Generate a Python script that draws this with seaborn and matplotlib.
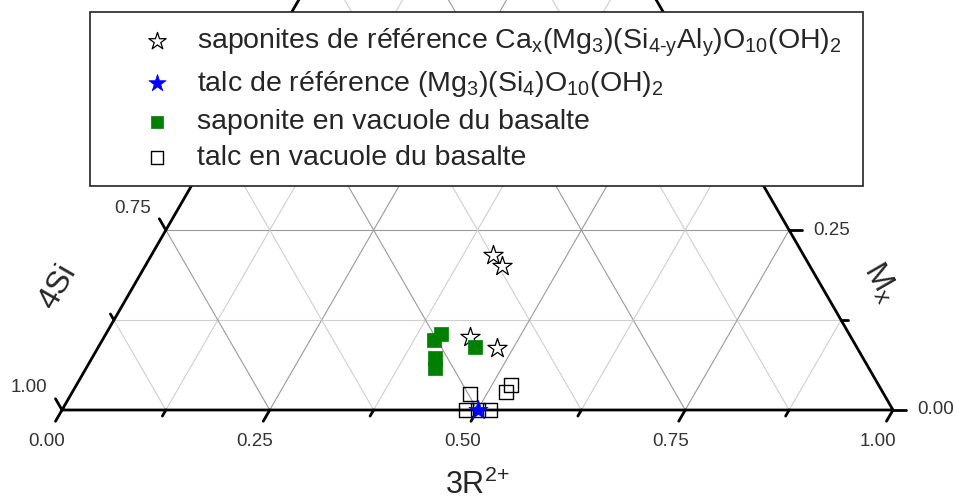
"""
Ternary diagram 3R2+ / 4Si / Mx — saponites and talc (reference vs basalt vacuoles).
"""

import numpy as np
import matplotlib
matplotlib.use("Agg")
import matplotlib.pyplot as plt
import seaborn as sns

# ── Data (ternary coordinates: 3R2+, 4Si, Mx) ────────────────────────────────

SAP_REF_3R  = [0.411, 0.430, 0.440, 0.481]
SAP_REF_4SI = [0.374, 0.370, 0.459, 0.433]
SAP_REF_MX  = [0.215, 0.200, 0.101, 0.086]

TALC_REF_3R  = [0.500]
TALC_REF_4SI = [0.500]
TALC_REF_MX  = [0.000]

SAP_VAC_3R  = [0.403, 0.399, 0.413, 0.420, 0.453]
SAP_VAC_4SI = [0.491, 0.504, 0.515, 0.522, 0.459]
SAP_VAC_MX  = [0.106, 0.097, 0.072, 0.058, 0.088]

TALC_VAC_3R  = [0.480, 0.523, 0.522, 0.486, 0.501, 0.515]
TALC_VAC_4SI = [0.498, 0.442, 0.453, 0.514, 0.499, 0.485]
TALC_VAC_MX  = [0.022, 0.035, 0.025, 0.000, 0.000, 0.000]

BOTTOM_TICKS = ["0.00", "0.25", "0.50", "0.75", "1.00"]
LEFT_TICKS   = ["1.00", "0.75"]
RIGHT_TICKS  = ["0.00", "0.25"]

LABELS = [
    r"saponites de référence Ca$_\mathrm{x}$(Mg$_\mathrm{3}$)(Si$_\text{4-y}$"
    r"Al$_\mathrm{y}$)O$_\mathrm{10}$(OH)$_\mathrm{2}$",
    r"talc de référence (Mg$_\mathrm{3}$)(Si$_\mathrm{4}$)O$_\mathrm{10}$(OH)$_\mathrm{2}$",
    "saponite en vacuole du basalte",
    "talc en vacuole du basalte",
]

# ── Style ─────────────────────────────────────────────────────────────────────

W, H_PX  = 956, 501
SCALE    = 831.0           # pixels per triangle side
X0_PX    = 62.0            # pixel of the 3R = 0 corner
Y0_PX    = 410.0           # pixel row of the bottom edge (from top)
PX       = 1.0 / SCALE
H        = np.sqrt(3) / 2

GRID_MAJOR = "#9a9a9a"
GRID_MINOR = "#cfcfcf"
GREEN      = "#007f00"
TICK_COL   = "#333333"

sns.set_theme(style="white")
plt.rcParams["font.family"] = ["Liberation Sans", "DejaVu Sans"]
plt.rcParams["mathtext.fontset"] = "custom"
plt.rcParams["mathtext.rm"] = "Liberation Sans"
plt.rcParams["mathtext.it"] = "Liberation Sans:italic"
plt.rcParams["mathtext.bf"] = "Liberation Sans:bold"


def to_xy(r3, si4, mx):
    """Ternary (3R, 4Si, Mx) -> cartesian, 3R to the right, Mx upward."""
    r3, si4, mx = (np.asarray(a, dtype=float) for a in (r3, si4, mx))
    tot = r3 + si4 + mx
    r3, mx = r3 / tot, mx / tot
    return r3 + mx / 2, mx * H


fig = plt.figure(figsize=(W / 100, H_PX / 100), dpi=100, facecolor="white")
ax = fig.add_axes([0, 0, 1, 1])
ax.set_xlim(-X0_PX * PX, (W - X0_PX) * PX)
ax.set_ylim(-(H_PX - Y0_PX) * PX, Y0_PX * PX)
ax.axis("off")

# ── Grid ──────────────────────────────────────────────────────────────────────
for k in range(1, 8):
    v = k / 8
    col = GRID_MAJOR if k % 2 == 0 else GRID_MINOR
    for a, b in [((0, 1 - v, v), (1 - v, 0, v)),      # constant Mx
                 ((v, 1 - v, 0), (v, 0, 1 - v)),      # constant 3R
                 ((1 - v, v, 0), (0, v, 1 - v))]:     # constant 4Si
        xa, ya = to_xy(*a)
        xb, yb = to_xy(*b)
        ax.plot([xa, xb], [ya, yb], color=col, lw=0.8, zorder=1)

# ── Triangle edges and ticks ──────────────────────────────────────────────────
cx, cy = to_xy([0, 1, 0, 0], [1, 0, 0, 1], [0, 0, 1, 0])
ax.plot(cx, cy, color="black", lw=2.0, zorder=3, solid_capstyle="round")

for k in range(9):
    v = k / 8
    ln = (13 if k % 2 == 0 else 7) * PX
    # bottom (3R) ticks point down-left
    bx, by = to_xy(v, 1 - v, 0)
    ax.plot([bx, bx - 0.5 * ln], [by, by - H * ln], color="black", lw=2.0, zorder=3)
    # left (4Si) ticks point up-left
    lx, ly = to_xy(0, v, 1 - v)
    ax.plot([lx, lx - 0.5 * ln], [ly, ly + H * ln], color="black", lw=2.0, zorder=3)
    # right (Mx) ticks point right
    rx, ry = to_xy(1 - v, 0, v)
    ax.plot([rx, rx + ln], [ry, ry], color="black", lw=2.0, zorder=3)

# ── Tick labels ───────────────────────────────────────────────────────────────
for lab in BOTTOM_TICKS:
    v = float(lab)
    x, y = to_xy(v, 1 - v, 0)
    ax.text(x - 15 * PX, y - 31 * PX, lab, ha="center", va="center",
            fontsize=13.5, color=TICK_COL)
for lab in LEFT_TICKS:
    v = float(lab)
    x, y = to_xy(0, v, 1 - v)
    ax.text(x - 33 * PX, y + 22 * PX, lab, ha="center", va="center",
            fontsize=13.5, color=TICK_COL)
for lab in RIGHT_TICKS:
    v = float(lab)
    x, y = to_xy(1 - v, 0, v)
    ax.text(x + 24 * PX, y, lab, ha="left", va="center",
            fontsize=13.5, color=TICK_COL)

# ── Axis titles ───────────────────────────────────────────────────────────────
ax.text((58 - X0_PX) * PX, (Y0_PX - 287) * PX, "4Si", rotation=60,
        ha="center", va="center", fontsize=23, rotation_mode="anchor")
ax.text(0.5, -(H_PX - Y0_PX - 0.5) * PX, r"3R$^\text{2+}$", ha="center",
        va="bottom", fontsize=22)
ax.text((880 - X0_PX) * PX, (Y0_PX - 283) * PX, r"M$_\mathrm{x}$", rotation=-60,
        ha="center", va="center", fontsize=23, rotation_mode="anchor")

# ── Points ────────────────────────────────────────────────────────────────────
x, y = to_xy(SAP_REF_3R, SAP_REF_4SI, SAP_REF_MX)
sns.scatterplot(x=x, y=y, ax=ax, marker="*", s=210, color="white",
                edgecolor="black", linewidth=0.9, zorder=4, label=LABELS[0])

x, y = to_xy(SAP_VAC_3R, SAP_VAC_4SI, SAP_VAC_MX)
sns.scatterplot(x=x, y=y, ax=ax, marker="s", s=105, color=GREEN,
                edgecolor=GREEN, linewidth=0.5, zorder=4, label=LABELS[2])

x, y = to_xy(TALC_VAC_3R, TALC_VAC_4SI, TALC_VAC_MX)
sns.scatterplot(x=x, y=y, ax=ax, marker="s", s=105, color="none",
                edgecolor="black", linewidth=1.0, zorder=5, label=LABELS[3])

x, y = to_xy(TALC_REF_3R, TALC_REF_4SI, TALC_REF_MX)
sns.scatterplot(x=x, y=y, ax=ax, marker="*", s=210, color="blue",
                edgecolor="blue", linewidth=0.5, zorder=6, label=LABELS[1])

# ── Legend ────────────────────────────────────────────────────────────────────
handles, labels = ax.get_legend_handles_labels()
order = [labels.index(l) for l in LABELS]
leg = ax.legend(
    [handles[i] for i in order], [labels[i] for i in order],
    loc="upper left",
    bbox_to_anchor=(90 / W, 1 - 180 / H_PX, 773 / W, 168 / H_PX),
    bbox_transform=fig.transFigure, mode="expand", borderaxespad=0,
    fontsize=20.5, frameon=True, fancybox=False, framealpha=1,
    edgecolor="#222222", handlelength=3.71, handletextpad=-0.45,
    labelspacing=0.36, borderpad=0.5, markerscale=0.9,
)
leg.get_frame().set_linewidth(1.2)
leg.set_zorder(10)

plt.savefig("out.png", dpi=100, facecolor="white")
